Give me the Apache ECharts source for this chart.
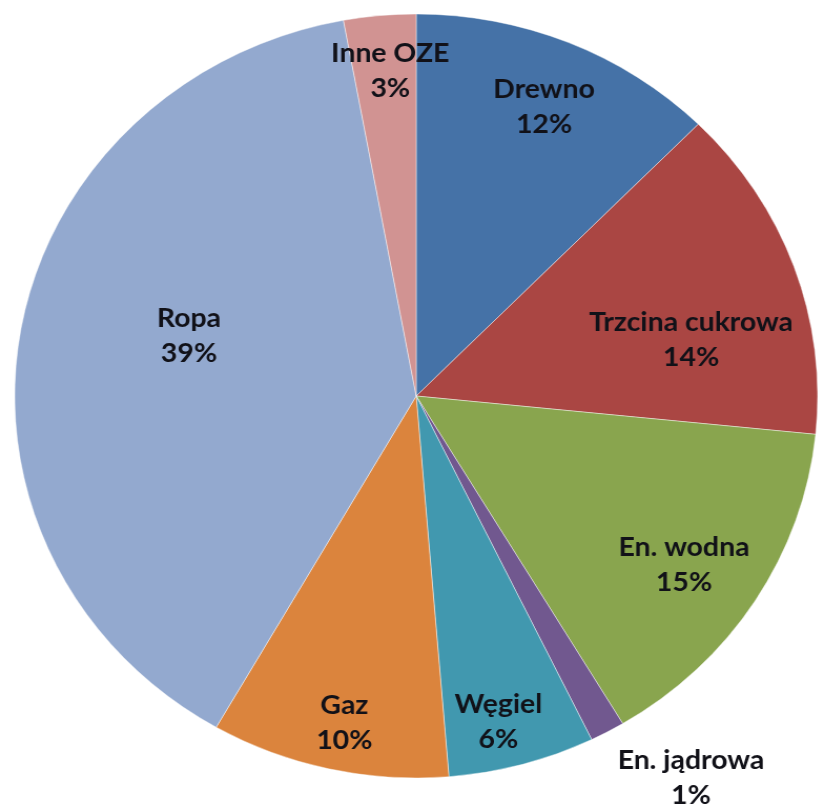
<!DOCTYPE html>
<html>
<head>
<meta charset="utf-8">
<script src="https://cdn.jsdelivr.net/npm/echarts@6/dist/echarts.min.js"></script>
<style>
  html, body { margin: 0; padding: 0; background: #ffffff; overflow: hidden; }
  #wrap { width: 820px; height: 812px; overflow: hidden; }
  #chart { width: 780px; height: 812px; transform: scaleX(1.051); transform-origin: 0 0; }
</style>
</head>
<body>
<div id="wrap"><div id="chart"></div></div>
<script>
// ---- data ----
const categories = ['Drewno', 'Trzcina cukrowa', 'En. wodna', 'En. jądrowa', 'Węgiel', 'Gaz', 'Ropa', 'Inne OZE'];
const values = [12.4, 14.2, 14.8, 1.4, 5.9, 9.6, 38.8, 2.9];

// ---- styles ----
const colors = ['#4572A7', '#AA4643', '#89A54E', '#71588F', '#4198AF', '#DB843D', '#93A9CF', '#D19392'];
const labelNudge = {
  'Drewno': [48, -110],
  'Trzcina cukrowa': [79, 10],
  'En. wodna': [91, 65],
  'En. jądrowa': [169, 211],
  'Węgiel': [27, 139],
  'Gaz': [-26, 137],
  'Ropa': [-25, -27],
  'Inne OZE': [-7, -132]
};

const chart = echarts.init(document.getElementById('chart'), null, { renderer: 'canvas' });
chart.setOption({
  animation: false,
  backgroundColor: '#ffffff',
  color: colors,
  series: [{
    type: 'pie',
    center: [396, 396],
    radius: 382,
    startAngle: 90,
    clockwise: true,
    avoidLabelOverlap: false,
    percentPrecision: 0,
    itemStyle: { borderColor: 'rgba(255,255,255,0.55)', borderWidth: 0.8 },
    label: {
      show: true,
      position: 'inside',
      formatter: '{b}\n{d}%',
      fontFamily: 'Lato, "Open Sans", sans-serif',
      fontWeight: 'bold',
      fontSize: 27,
      lineHeight: 35,
      color: '#111118',
      align: 'center'
    },
    labelLine: { show: false },
    emphasis: { disabled: true },
    labelLayout: function (params) {
      const n = labelNudge[categories[params.dataIndex]] || [0, 0];
      return { dx: n[0], dy: n[1] };
    },
    data: categories.map((c, i) => ({ name: c, value: values[i] }))
  }]
});
</script>
</body>
</html>
